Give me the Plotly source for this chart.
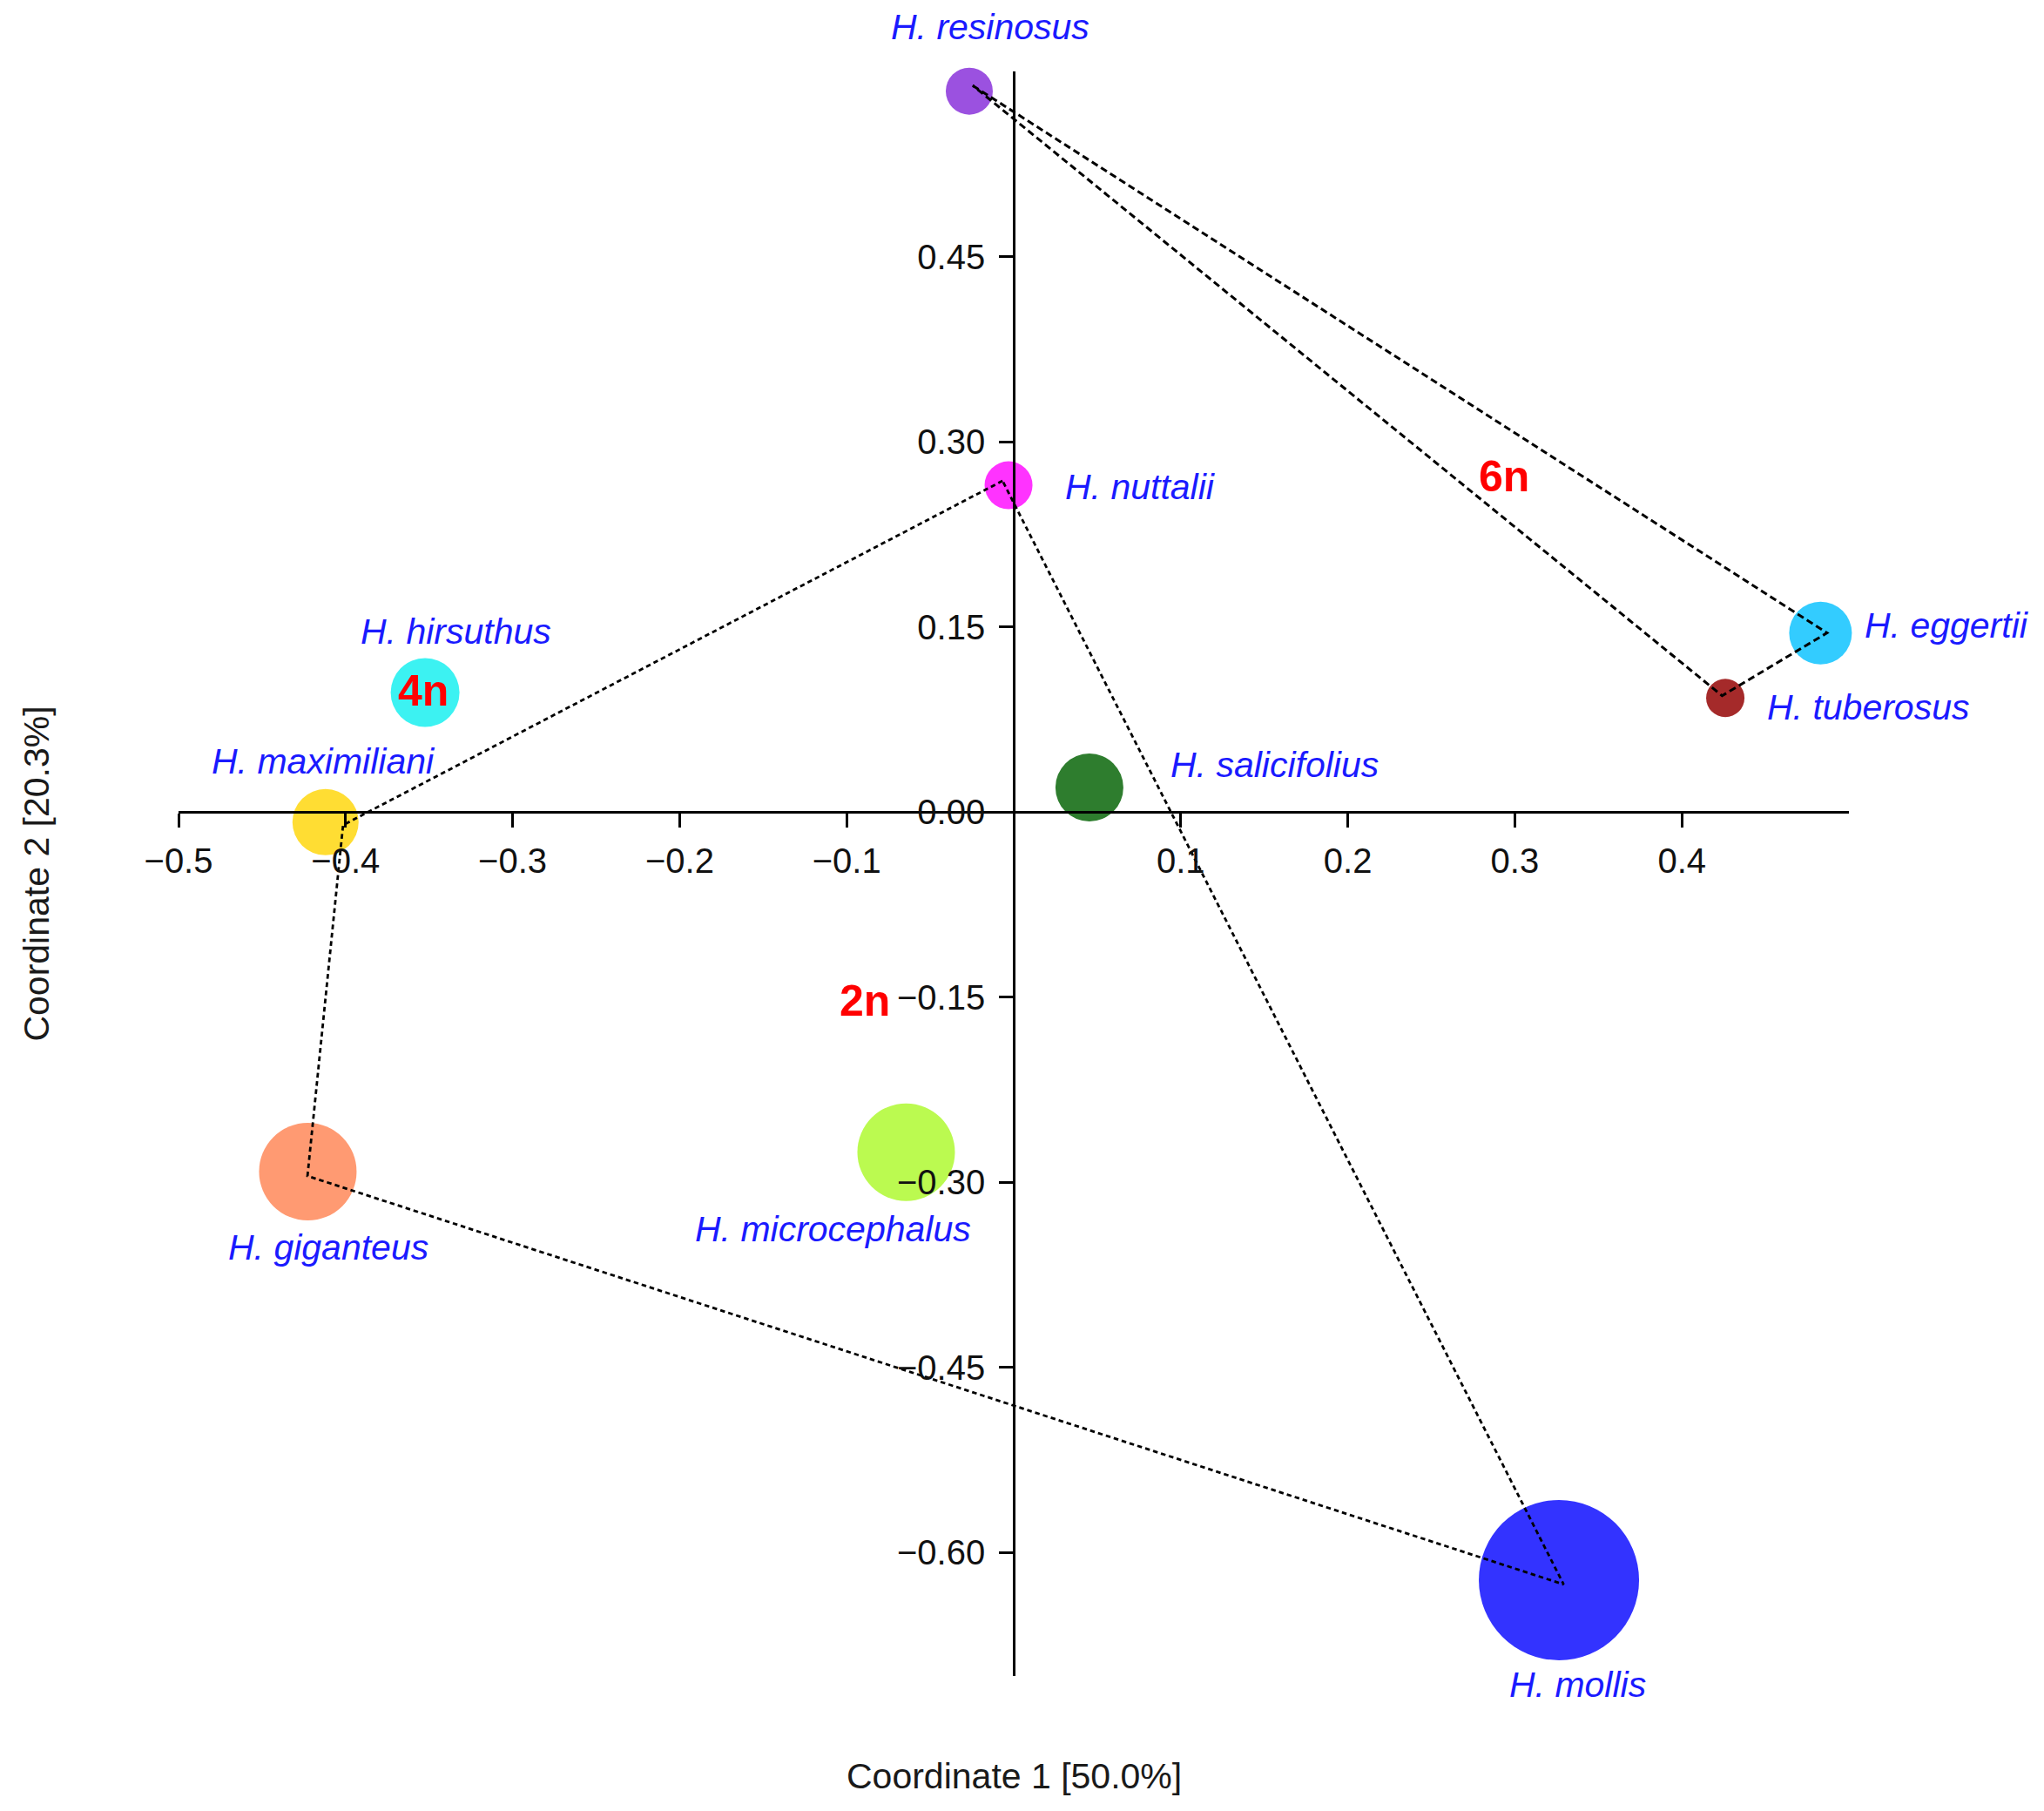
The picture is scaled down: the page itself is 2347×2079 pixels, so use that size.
import plotly.graph_objects as go

# ---- data ----
species = ["H. resinosus", "H. nuttalii", "H. hirsuthus", "H. maximiliani", "H. salicifolius",
           "H. eggertii", "H. tuberosus", "H. giganteus", "H. microcephalus", "H. mollis"]
coord1 = [-0.0266, -0.0031, -0.3524, -0.4120, 0.0453, 0.4830, 0.4260, -0.4226, -0.0644, 0.3264]
coord2 = [0.5840, 0.2647, 0.0968, -0.0082, 0.0199, 0.1450, 0.0924, -0.2914, -0.2756, -0.6223]
bubble_size = [54, 55, 79, 76, 78, 72, 44, 112, 112, 184]
colors = ["#9B51E0", "#FF33FF", "#3CF2F2", "#FFDD33", "#2E7D2E",
          "#33CCFF", "#A52A2A", "#FF9A72", "#BBFA50", "#3333FF"]

# label positions and anchors
label_x = [-0.0140, 0.0296, -0.3339, -0.4134, 0.0928, 0.5086, 0.4501, -0.4103, -0.1084, 0.3378]
label_y = [0.6360, 0.2632, 0.1459, 0.0412, 0.0380, 0.1512, 0.0846, -0.3531, -0.3383, -0.7072]
label_anchor = ["center", "left", "center", "center", "left", "left", "left", "center", "center", "center"]

# hull polygons
hull_6n_x = [-0.0246, 0.4869, 0.4241, -0.0246]
hull_6n_y = [0.5886, 0.1451, 0.0942, 0.5886]
hull_2n4n_x = [-0.0067, -0.4015, -0.4228, 0.3292, -0.0067]
hull_2n4n_y = [0.2683, -0.0106, -0.2949, -0.6258, 0.2683]

# ploidy labels
ploidy_text = ["4n", "6n", "2n"]
ploidy_x = [-0.3534, 0.2933, -0.0889]
ploidy_y = [0.0983, 0.2717, -0.1533]

# axis titles
x_title = "Coordinate 1 [50.0%]"
y_title = "Coordinate 2 [20.3%]"
x_title_pos = (0.0, -0.781)
y_title_pos = (-0.585, -0.0497)

# axis ticks
x_ticks = [-0.5, -0.4, -0.3, -0.2, -0.1, 0.1, 0.2, 0.3, 0.4]
x_ticktext = ["\u22120.5", "\u22120.4", "\u22120.3", "\u22120.2", "\u22120.1", "0.1", "0.2", "0.3", "0.4"]
y_ticks = [-0.60, -0.45, -0.30, -0.15, 0.00, 0.15, 0.30, 0.45]
y_ticktext = ["\u22120.60", "\u22120.45", "\u22120.30", "\u22120.15", "0.00", "0.15", "0.30", "0.45"]
x_range = [-0.5, 0.5]
y_range = [-0.7, 0.6]

FONT = "Liberation Sans, Arial, sans-serif"


def px(x):
    return (x - x_range[0]) / (x_range[1] - x_range[0])


def py(y):
    return (y - y_range[0]) / (y_range[1] - y_range[0])


fig = go.Figure()

fig.add_trace(go.Scatter(
    x=coord1, y=coord2, mode="markers",
    marker=dict(size=bubble_size, color=colors, opacity=1, line=dict(width=0)),
    hoverinfo="text", text=species, showlegend=False, cliponaxis=False))

fig.add_trace(go.Scatter(
    x=hull_6n_x, y=hull_6n_y, mode="lines",
    line=dict(color="black", width=3, dash="8px,4.5px"), showlegend=False, cliponaxis=False))

fig.add_trace(go.Scatter(
    x=hull_2n4n_x, y=hull_2n4n_y, mode="lines",
    line=dict(color="black", width=2.8, dash="5.5px,4px"), showlegend=False, cliponaxis=False))

annotations = []
for name, lx, ly, anc in zip(species, label_x, label_y, label_anchor):
    annotations.append(dict(
        x=px(lx), y=py(ly), xref="paper", yref="paper", text="<i>" + name + "</i>", showarrow=False,
        xanchor=anc, yanchor="middle",
        font=dict(family=FONT, size=41, color="#1a1aff")))

for t, tx, ty in zip(ploidy_text, ploidy_x, ploidy_y):
    annotations.append(dict(
        x=px(tx), y=py(ty), xref="paper", yref="paper", text="<b>" + t + "</b>", showarrow=False,
        xanchor="center", yanchor="middle",
        font=dict(family=FONT, size=50, color="#FF0000")))

annotations.append(dict(
    x=px(x_title_pos[0]), y=py(x_title_pos[1]), xref="paper", yref="paper", text=x_title,
    showarrow=False, xanchor="center", yanchor="middle",
    font=dict(family=FONT, size=41, color="#1a1a1a")))
annotations.append(dict(
    x=px(y_title_pos[0]), y=py(y_title_pos[1]), xref="paper", yref="paper", text=y_title,
    showarrow=False, xanchor="center", yanchor="middle", textangle=-90,
    font=dict(family=FONT, size=41, color="#1a1a1a")))

fig.update_layout(
    width=2339, height=2071,
    margin=dict(l=197, r=224, t=74, b=155),
    paper_bgcolor="white", plot_bgcolor="white",
    showlegend=False,
    annotations=annotations,
    xaxis=dict(range=x_range, anchor="free", position=py(0),
               showline=True, linecolor="black", linewidth=2.7,
               ticks="outside", ticklen=16, tickwidth=2.7, tickcolor="black",
               tickvals=x_ticks, ticktext=x_ticktext, ticklabelstandoff=4,
               tickfont=dict(family=FONT, size=40, color="#111111"),
               showgrid=False, zeroline=False, automargin=False),
    yaxis=dict(range=y_range, anchor="free", position=px(0),
               showline=True, linecolor="black", linewidth=2.7,
               ticks="outside", ticklen=16, tickwidth=2.7, tickcolor="black",
               tickvals=y_ticks, ticktext=y_ticktext, ticklabelstandoff=8,
               tickfont=dict(family=FONT, size=40, color="#111111"),
               showgrid=False, zeroline=False, automargin=False),
)

fig.write_html("out.html")
